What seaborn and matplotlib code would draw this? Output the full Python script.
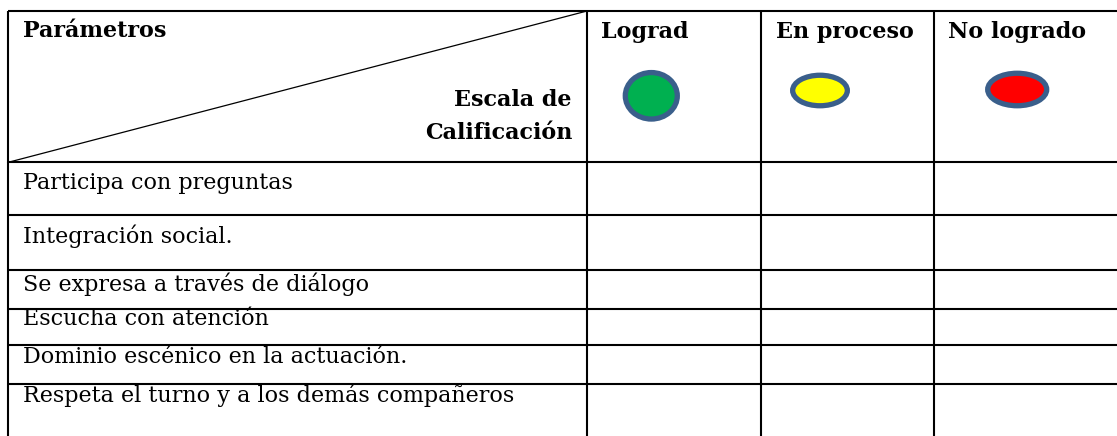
import numpy as np
import matplotlib
matplotlib.use('Agg')
import matplotlib.pyplot as plt
from matplotlib.patches import Ellipse
import seaborn as sns

# datos de la tabla
parametros = [
    'Participa con preguntas',
    'Integración social.',
    'Se expresa a través de diálogo',
    'Escucha con atención',
    'Dominio escénico en la actuación.',
    'Respeta el turno y a los demás compañeros',
]
escala = ['Lograd', 'En proceso', 'No logrado']
colores = ['#00B050', '#FFFF00', '#FF0000']

# disposición (en píxeles de la imagen)
W, H = 1117, 436
col_edges = [7.5, 587, 761, 933.5]
row_edges = [11, 162.5, 214.5, 270, 308.5, 344.5, 383.5]
text_offsets = [26, 28, 20.5, 16.5, 18, 18.5]   # línea base respecto al borde superior de la fila
elipse_centros = [(651.3, 95.8), (820, 90.5), (1017.2, 89.5)]
elipse_tam = [(52, 46.5), (54.7, 30.5), (59, 32.5)]
borde_elipse = '#3A5F8B'
FS = 16

sns.set_theme(style='white')
plt.rcParams['font.family'] = ['DejaVu Serif', 'Liberation Serif']
plt.rcParams['text.color'] = 'black'

fig = plt.figure(figsize=(W / 100, H / 100), dpi=100)
ax = fig.add_axes([0, 0, 1, 1])
ax.set_xlim(0, W)
ax.set_ylim(H, 0)
ax.axis('off')

lw = 1.5
# líneas horizontales
for y in row_edges:
    ax.plot([col_edges[0], W], [y, y], color='black', lw=lw, solid_capstyle='butt')
# líneas verticales
for x in col_edges:
    ax.plot([x, x], [row_edges[0], H], color='black', lw=lw, solid_capstyle='butt')

# diagonal del encabezado
ax.plot([col_edges[0], col_edges[1]], [row_edges[1], row_edges[0]], color='black', lw=0.9)

# encabezados
ax.text(22.7, 37.3, 'Parámetros', fontsize=FS, fontweight='bold', va='baseline', ha='left')
ax.text(572, 106, 'Escala de', fontsize=FS, fontweight='bold', va='baseline', ha='right')
ax.text(572, 138.5, 'Calificación', fontsize=FS, fontweight='bold', va='baseline', ha='right')

for i, (nombre, color) in enumerate(zip(escala, colores)):
    ax.text(col_edges[i + 1] + 14.5, 38.3, nombre, fontsize=FS, fontweight='bold',
            va='baseline', ha='left')
    (cx, cy), (ew, eh) = elipse_centros[i], elipse_tam[i]
    ax.add_patch(Ellipse((cx, cy), ew, eh, facecolor=color, edgecolor=borde_elipse, lw=3.8))

# filas de parámetros
for i, p in enumerate(parametros):
    ax.text(23, row_edges[i + 1] + text_offsets[i], p, fontsize=FS, va='baseline', ha='left')

fig.savefig('out.png', dpi=100, facecolor='white')
